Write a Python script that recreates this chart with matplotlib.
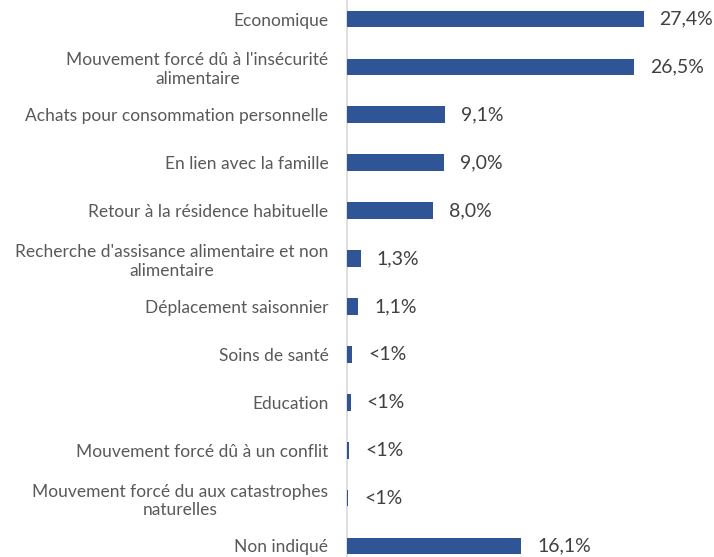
import matplotlib
matplotlib.use("Agg")
import matplotlib.pyplot as plt

categories = [
    "Economique",
    "Mouvement forcé dû à l'insécurité\nalimentaire",
    "Achats pour consommation personnelle",
    "En lien avec la famille",
    "Retour à la résidence habituelle",
    "Recherche d'assisance alimentaire et non\nalimentaire",
    "Déplacement saisonnier",
    "Soins de santé",
    "Education",
    "Mouvement forcé dû à un conflit",
    "Mouvement forcé du aux catastrophes\nnaturelles",
    "Non indiqué",
]
values = [27.4, 26.5, 9.1, 9.0, 8.0, 1.3, 1.1, 0.5, 0.4, 0.25, 0.15, 16.1]
labels = ["27,4%", "26,5%", "9,1%", "9,0%", "8,0%", "1,3%", "1,1%",
          "<1%", "<1%", "<1%", "<1%", "16,1%"]

plt.rcParams['font.family'] = ['Lato', 'DejaVu Sans']

fig = plt.figure(figsize=(7.14, 5.57), dpi=100)
ax = fig.add_axes([0.4853, 0.0, 0.5147, 1.0])

y = list(range(len(categories)))
ax.barh(y, values, height=0.35, color="#2F5597", zorder=3)

for yi, v, lab in zip(y, values, labels):
    ax.annotate(lab, (v, yi), xytext=(11.5, 0), textcoords="offset points",
                va="center", ha="left", fontsize=14, color="#404040")

ax.set_xlim(0, 33.9)
ax.set_ylim(11.23, -0.397)
ax.set_yticks(y)
ax.set_yticklabels(categories, fontsize=12.5, color="#595959", ha="right",
                   multialignment="center", linespacing=1.2)
ax.tick_params(axis="y", length=0, pad=13)
ax.set_xticks([])
for s in ["top", "right", "bottom"]:
    ax.spines[s].set_visible(False)
ax.spines["left"].set_color("#d9d9d9")
ax.spines["left"].set_linewidth(1.2)
ax.spines["left"].set_zorder(1)

fig.savefig("out.png", dpi=100)
